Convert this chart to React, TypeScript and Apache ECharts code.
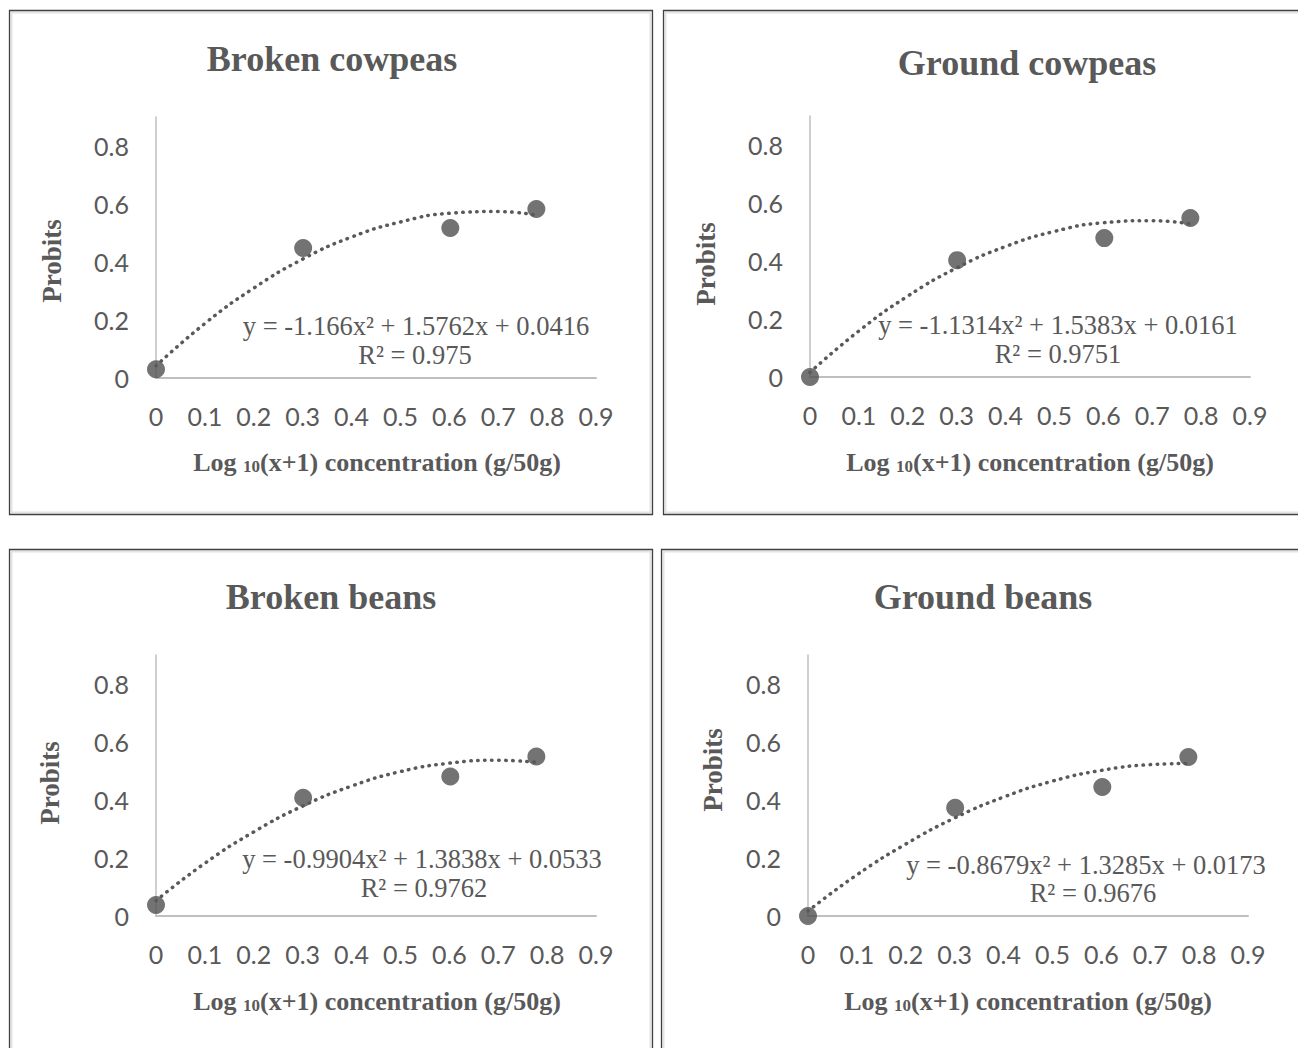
import React, { useEffect, useRef } from "react";
import * as echarts from "echarts";

// ---- Data ----
const panelTitles = ["Broken cowpeas", "Ground cowpeas", "Broken beans", "Ground beans"];
const concentrationX = [0, 0.301, 0.602, 0.778];
const brokenCowpeas = [0.03, 0.448, 0.517, 0.583];
const groundCowpeas = [0.0, 0.403, 0.479, 0.548];
const brokenBeans = [0.038, 0.408, 0.481, 0.55];
const groundBeans = [0.0, 0.373, 0.445, 0.548];

// Trendline points
const trendX = [0, 0.1, 0.2, 0.3, 0.4, 0.5, 0.6, 0.7, 0.778];
const trendBrokenCowpeas = [0.042, 0.188, 0.31, 0.41, 0.486, 0.538, 0.568, 0.574, 0.562];
const trendGroundCowpeas = [0.016, 0.159, 0.279, 0.376, 0.45, 0.502, 0.532, 0.539, 0.528];
const trendBrokenBeans = [0.053, 0.182, 0.29, 0.379, 0.448, 0.498, 0.527, 0.537, 0.53];
const trendGroundBeans = [0.017, 0.142, 0.248, 0.338, 0.41, 0.465, 0.502, 0.522, 0.526];

const equations = [
  "y = -1.166x² + 1.5762x + 0.0416",
  "y = -1.1314x² + 1.5383x + 0.0161",
  "y = -0.9904x² + 1.3838x + 0.0533",
  "y = -0.8679x² + 1.3285x + 0.0173",
];
const rSquared = ["R² = 0.975", "R² = 0.9751", "R² = 0.9762", "R² = 0.9676"];

const yAxisName = "Probits";
const xAxisNameParts = ["Log ", "10", "(x+1) concentration (g/50g)"];

const pointSets = [brokenCowpeas, groundCowpeas, brokenBeans, groundBeans];
const trendSets = [trendBrokenCowpeas, trendGroundCowpeas, trendBrokenBeans, trendGroundBeans];

// ---- Layout ----
const layout = [
  { left: 156, top: 117, border: [9.5, 10.5, 643, 504], title: [332, 59], yName: [52, 261], xName: [377, 460], eq: [416, 326], r2: [415, 355] },
  { left: 810, top: 116, border: [663.5, 10.5, 700, 504], title: [1027, 63], yName: [706, 264], xName: [1030, 460], eq: [1058, 325], r2: [1058, 354] },
  { left: 156, top: 655, border: [9.5, 549.5, 643, 600], title: [331, 597], yName: [50, 783], xName: [377, 999], eq: [422, 859], r2: [424, 888] },
  { left: 808, top: 655, border: [661.5, 549.5, 700, 600], title: [983, 597], yName: [713, 770], xName: [1028, 999], eq: [1086, 865], r2: [1093, 893] },
];

const GRID_W = 440;
const GRID_H = 261;
const INK = "#595959";
const MARK = "#505050";
const AXIS = "#bfbfbf";
const SERIF = "'Liberation Serif', 'Times New Roman', serif";
const SANS = "Lato, 'Open Sans', sans-serif";

export default function App() {
  const ref = useRef<HTMLDivElement>(null);

  useEffect(() => {
    if (!ref.current) return;
    const chart = echarts.init(ref.current, null, { renderer: "svg" });

    const grids: any[] = [];
    const xAxes: any[] = [];
    const yAxes: any[] = [];
    const series: any[] = [];
    const graphics: any[] = [];

    layout.forEach((p, i) => {
      grids.push({ left: p.left, top: p.top, width: GRID_W, height: GRID_H, outerBoundsMode: "none", containLabel: false });
      xAxes.push({
        type: "value",
        gridIndex: i,
        min: 0,
        max: 0.9,
        interval: 0.1,
        splitLine: { show: false },
        axisTick: { show: false },
        axisLine: { show: true, onZero: false, lineStyle: { color: AXIS, width: 2 } },
        axisLabel: { margin: 25, color: INK, fontSize: 25, fontFamily: SANS },
      });
      yAxes.push({
        type: "value",
        gridIndex: i,
        min: 0,
        max: 0.9,
        interval: 0.2,
        splitLine: { show: false },
        axisTick: { show: false },
        axisLine: { show: true, lineStyle: { color: AXIS, width: 1.5 } },
        axisLabel: {
          margin: 27,
          color: INK,
          fontSize: 25,
          fontFamily: SANS,
          formatter: (v: number) => (v > 0.85 ? "" : String(Math.round(v * 10) / 10)),
        },
      });
      series.push({
        type: "line",
        xAxisIndex: i,
        yAxisIndex: i,
        data: trendX.map((x, k) => [x, trendSets[i][k]]),
        smooth: true,
        showSymbol: false,
        symbol: "none",
        lineStyle: { color: INK, width: 3.5, type: [0.5, 6.5], cap: "round" },
        z: 3,
        silent: true,
      });
      series.push({
        type: "scatter",
        xAxisIndex: i,
        yAxisIndex: i,
        data: concentrationX.map((x, k) => [x, pointSets[i][k]]),
        symbol: "circle",
        symbolSize: 18,
        itemStyle: { color: MARK },
        z: 2,
      });

      const [bx, by, bw, bh] = p.border;
      graphics.push({
        type: "rect",
        shape: { x: bx + 2, y: by + 2, width: bw - 4, height: bh - 4 },
        style: { fill: "none", stroke: "#e4e4e4", lineWidth: 2 },
        silent: true,
      });
      graphics.push({
        type: "rect",
        shape: { x: bx, y: by, width: bw, height: bh },
        style: { fill: "none", stroke: "#404040", lineWidth: 1.3 },
        silent: true,
      });
      graphics.push({
        type: "text",
        x: p.title[0],
        y: p.title[1],
        style: { text: panelTitles[i], align: "center", verticalAlign: "middle", font: `bold 36px ${SERIF}`, fill: INK },
      });
      graphics.push({
        type: "text",
        x: p.yName[0],
        y: p.yName[1],
        rotation: Math.PI / 2,
        style: { text: yAxisName, align: "center", verticalAlign: "middle", font: `bold 27px ${SERIF}`, fill: INK },
      });
      graphics.push({
        type: "text",
        x: p.xName[0],
        y: p.xName[1],
        style: {
          text: `{a|${xAxisNameParts[0]}}{sub|${xAxisNameParts[1]}}{a|${xAxisNameParts[2]}}`,
          align: "center",
          verticalAlign: "middle",
          rich: {
            a: { fontFamily: SERIF, fontWeight: "bold", fontSize: 26, fill: INK, color: INK, lineHeight: 30, verticalAlign: "bottom" },
            sub: { fontFamily: SERIF, fontWeight: "bold", fontSize: 17, fill: INK, color: INK, lineHeight: 20, verticalAlign: "bottom" },
          },
        },
      });
      graphics.push({
        type: "text",
        x: p.eq[0],
        y: p.eq[1],
        style: { text: equations[i], align: "center", verticalAlign: "middle", font: `26.5px ${SERIF}`, fill: INK },
      });
      graphics.push({
        type: "text",
        x: p.r2[0],
        y: p.r2[1],
        style: { text: rSquared[i], align: "center", verticalAlign: "middle", font: `26.5px ${SERIF}`, fill: INK },
      });
    });

    chart.setOption({
      animation: false,
      backgroundColor: "#ffffff",
      grid: grids,
      xAxis: xAxes,
      yAxis: yAxes,
      series,
      graphic: { elements: graphics },
    });

    return () => chart.dispose();
  }, []);

  return (
    <div
      ref={ref}
      style={{ position: "fixed", left: 0, top: 0, width: 1298, height: 1048, background: "#fff" }}
    />
  );
}
